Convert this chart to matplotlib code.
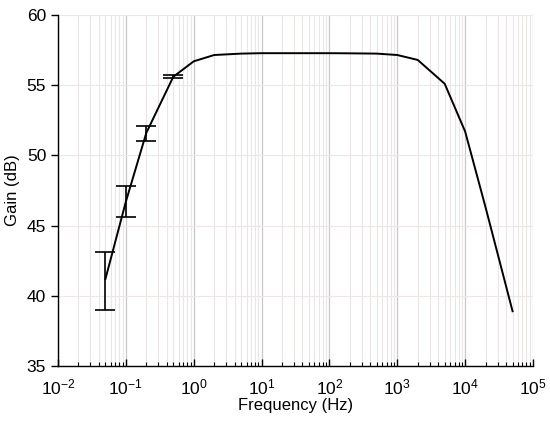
import numpy as np
import matplotlib
matplotlib.use('Agg')
import matplotlib.pyplot as plt
from matplotlib.ticker import LogLocator, NullFormatter

plt.rcParams['font.family'] = ['Liberation Sans', 'DejaVu Sans']
plt.rcParams['mathtext.fontset'] = 'custom'
plt.rcParams['mathtext.rm'] = 'Liberation Sans'
plt.rcParams['mathtext.default'] = 'regular'

# 频率 (Hz) 与增益 (dB)
freq = [0.05, 0.1, 0.2, 0.5, 1, 2, 5, 10, 20, 50, 100, 200, 500,
        1000, 2000, 5000, 10000, 20000, 50000]
gain = [41.2, 46.7, 51.6, 55.6, 56.7, 57.15, 57.25, 57.28, 57.28, 57.28,
        57.28, 57.27, 57.25, 57.15, 56.8, 55.1, 51.7, 46.3, 38.9]

# 误差棒 (前四个点)
err_freq = [0.05, 0.1, 0.2, 0.5]
err_low = [39.0, 45.6, 51.0, 55.5]
err_high = [43.1, 47.8, 52.1, 55.7]

fig = plt.figure(figsize=(5.5, 4.23), dpi=100)
ax = fig.add_axes([58 / 550, 1 - 366 / 423, 475 / 550, 351 / 423])

ax.plot(freq, gain, color='black', lw=1.4, zorder=3)

err_c = [(l + h) / 2 for l, h in zip(err_low, err_high)]
err_d = [(h - l) / 2 for l, h in zip(err_low, err_high)]
ax.errorbar(err_freq, err_c, yerr=err_d, fmt='none', ecolor='black',
            elinewidth=1.2, capsize=7, capthick=1.2, zorder=3)

ax.set_xscale('log')
ax.set_xlim(1e-2, 1e5)
ax.set_ylim(35, 60)
ax.set_yticks([35, 40, 45, 50, 55, 60])
ax.xaxis.set_major_locator(LogLocator(base=10, numticks=10))
ax.xaxis.set_minor_locator(LogLocator(base=10, subs=np.arange(2, 10), numticks=20))
ax.xaxis.set_minor_formatter(NullFormatter())

ax.grid(which='major', axis='x', color='#c8c8c8', lw=0.9, zorder=0)
ax.grid(which='minor', axis='x', color='#ebe6e6', lw=0.8, zorder=0)
ax.grid(which='major', axis='y', color='#ece6e6', lw=0.8, zorder=0)

ax.spines['top'].set_visible(False)
ax.spines['right'].set_visible(False)
for s in ['left', 'bottom']:
    ax.spines[s].set_linewidth(1.0)

ax.tick_params(axis='x', which='major', direction='in', length=5, width=1,
               labelsize=12.5, pad=8)
ax.tick_params(axis='x', which='minor', direction='in', length=3, width=0.8)
ax.tick_params(axis='y', which='major', direction='out', length=5, width=1,
               labelsize=12.5)

ax.set_xlabel('Frequency (Hz)', fontsize=12, labelpad=1)
ax.set_ylabel('Gain (dB)', fontsize=12, labelpad=5)

plt.savefig('out.png', dpi=100)
